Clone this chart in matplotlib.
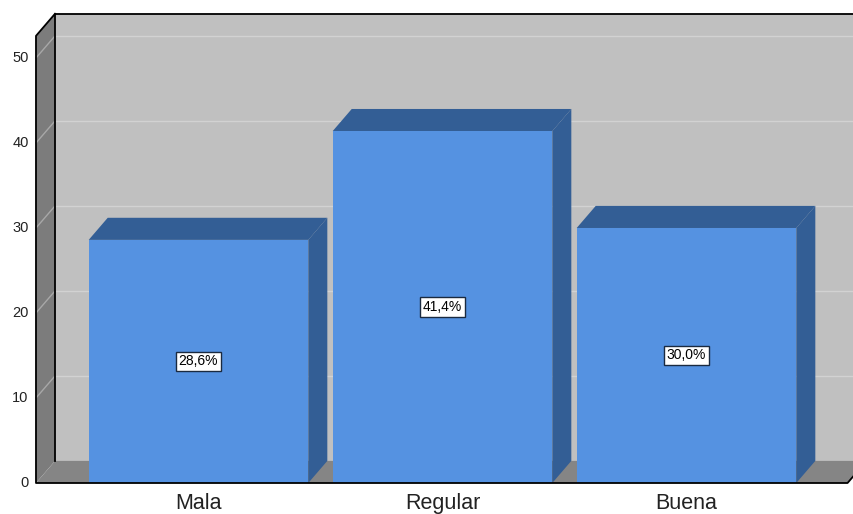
import matplotlib.pyplot as plt
from matplotlib.patches import Polygon

# Porcentaje por categoria
categorias = ["Mala", "Regular", "Buena"]
porcentajes = [28.6, 41.4, 30.0]
etiquetas = ["28,6%", "41,4%", "30,0%"]
ticks_y = [0, 10, 20, 30, 40, 50]

# Efecto 3D: profundidad en unidades de datos
prof_x = 0.078
prof_y = 2.6
ancho = 0.9
y_max = 52.6
x_izq = -0.666
x_der = 2.66

col_pared = "#c0c0c0"
col_lateral = "#7c7c7c"
col_suelo = "#858585"
col_frente = "#5592e1"
col_oscuro = "#335e95"

fig = plt.figure(figsize=(8.54, 5.14), dpi=100)
ax = fig.add_axes([0, 0, 1, 1])
ax.set_xlim(-0.8135, 2.6865)
ax.set_ylim(-3.647, 56.82)
ax.axis("off")

def poly(pts, color, z=1, borde="none", lw=0):
    ax.add_patch(Polygon(pts, closed=True, facecolor=color, edgecolor=borde,
                         linewidth=lw, zorder=z))

# Pared del fondo
poly([(x_izq + prof_x, prof_y), (x_der + 1, prof_y),
      (x_der + 1, y_max + prof_y), (x_izq + prof_x, y_max + prof_y)], col_pared, 1)
# Pared lateral izquierda
poly([(x_izq, 0), (x_izq + prof_x, prof_y), (x_izq + prof_x, y_max + prof_y),
      (x_izq, y_max)], col_lateral, 1)
# Suelo
poly([(x_izq, 0), (x_der, 0), (x_der + prof_x, prof_y),
      (x_izq + prof_x, prof_y)], col_suelo, 1)

# Lineas de cuadricula y etiquetas del eje
for t in ticks_y:
    if t > 0:
        ax.plot([x_izq + prof_x, x_der + 1], [t + prof_y, t + prof_y],
                color="#d2d2d2", lw=1, zorder=2)
        ax.plot([x_izq, x_izq + prof_x], [t, t + prof_y],
                color="#a8a8a8", lw=1, zorder=2)
    ax.text(x_izq - 0.03, t, str(t), ha="right", va="center",
            fontsize=10.5, color="#222222", family="Liberation Sans")

# Bordes del marco
ax.plot([x_izq + prof_x, x_izq + prof_x, x_der + 1],
        [prof_y, y_max + prof_y, y_max + prof_y], color="black", lw=1.3, zorder=3)
ax.plot([x_izq + prof_x, x_izq, x_izq, x_der, x_der + prof_x],
        [y_max + prof_y, y_max, 0, 0, prof_y], color="black", lw=1.3, zorder=6)

# Barras 3D
for i, (v, et) in enumerate(zip(porcentajes, etiquetas)):
    x0 = i - ancho / 2
    x1 = i + ancho / 2
    poly([(x0, v), (x1, v), (x1 + prof_x, v + prof_y), (x0 + prof_x, v + prof_y)],
         col_oscuro, 4)
    poly([(x1, 0), (x1 + prof_x, prof_y), (x1 + prof_x, v + prof_y), (x1, v)],
         col_oscuro, 4)
    poly([(x0, 0), (x1, 0), (x1, v), (x0, v)], col_frente, 5)
    ax.text(i, v / 2, et, ha="center", va="center", fontsize=10,
            family="Liberation Sans", zorder=7,
            bbox=dict(boxstyle="square,pad=0.2", facecolor="white",
                      edgecolor="#1a2a40", linewidth=1))
    ax.text(i, -1.2, categorias[i], ha="center", va="top", fontsize=15.5,
            color="#222222", family="Liberation Sans")

fig.savefig("out.png", dpi=100)
